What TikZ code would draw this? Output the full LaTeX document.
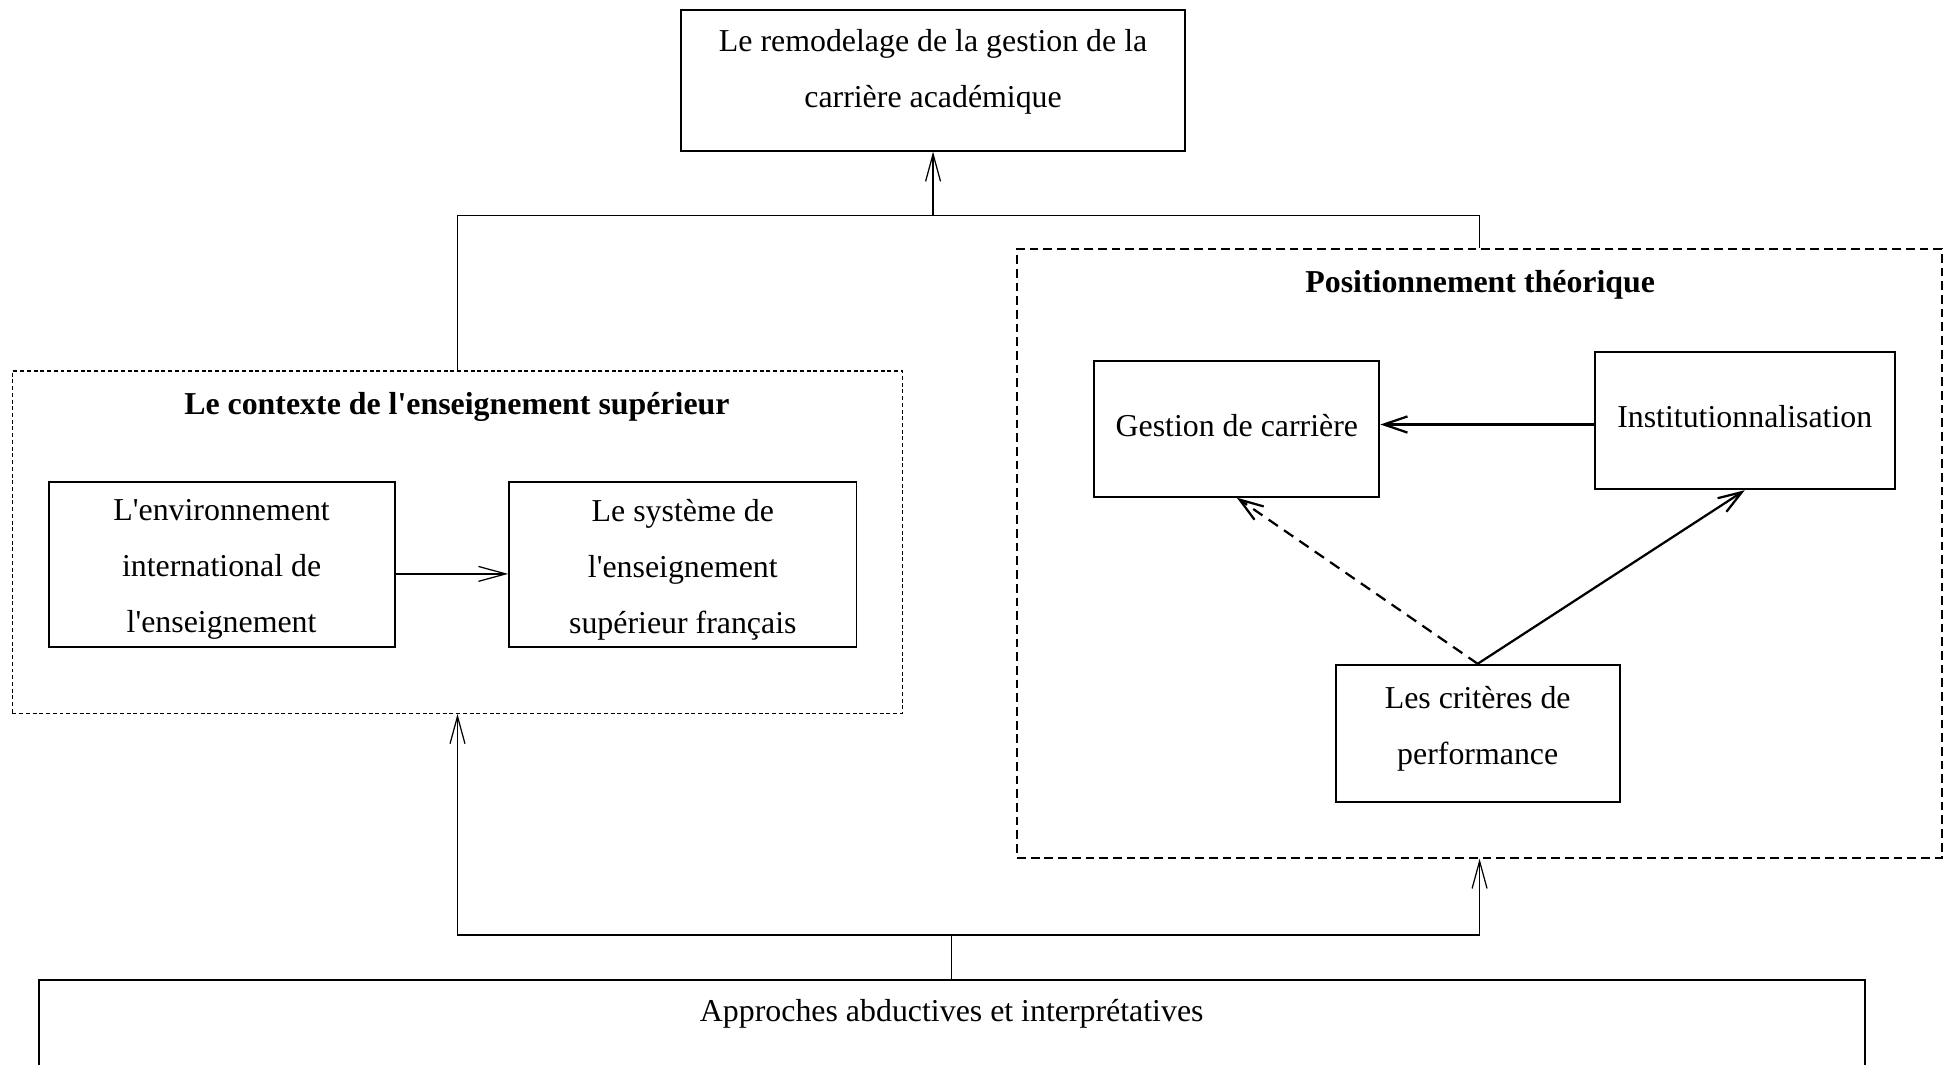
\documentclass[tikz,border=0pt]{standalone}
\usepackage{fontspec}
\setmainfont{Liberation Serif}
\usetikzlibrary{arrows.meta}

\begin{document}
\begin{tikzpicture}[x=0.5pt,y=-0.5pt,
  font=\fontsize{12.8}{22.5}\selectfont,
  box/.style={draw,line width=0.8pt,inner sep=0pt},
  txt/.style={align=center,inner sep=0pt},
  ctxframe/.style={draw,line width=0.5pt,dash pattern=on 1.6pt off 1.1pt,inner sep=0pt},
  theoframe/.style={draw,line width=0.8pt,dash pattern=on 3.5pt off 2pt,inner sep=0pt},
  boxtitle/.style={font=\fontsize{12.8}{15}\selectfont\bfseries,inner sep=0pt},
  conn/.style={line width=0.5pt},
  arr/.style={line width=0.5pt,-{Straight Barb[length=11pt,width=6pt]}},
  bigarr/.style={line width=0.9pt,-{Straight Barb[length=9.5pt,width=6.5pt]}}]
 \useasboundingbox (0,0) rectangle (1568,855);

 % top
 \node[box,minimum width=202.5pt,minimum height=56.5pt] (remod) at (749.5,64.5) {};
 \node[txt] (remodtxt) at (749.5,57.5) {Le remodelage de la gestion de la\\carrière académique};

 % contexte
 \node[ctxframe,minimum width=357.5pt,minimum height=137.5pt] (ctx) at (367.5,435.5) {};
 \node[boxtitle] (ctxtitle) at (367,327) {Le contexte de l\textquotesingle enseignement supérieur};
 \node[box,minimum width=139pt,minimum height=66.5pt] (env) at (178,453.5) {};
 \node[txt] (envtxt) at (178,457.5) {L\textquotesingle environnement\\international de\\l\textquotesingle enseignement};
 \node[box,minimum width=139.5pt,minimum height=66.5pt] (sys) at (548.5,453.5) {};
 \node[txt] (systxt) at (548.5,457.5) {Le système de\\l\textquotesingle enseignement\\supérieur français};
 \draw[arr] ([yshift=-3.75pt]env.east) -- ([yshift=-3.75pt]sys.west);

 % positionnement theorique
 \node[theoframe,minimum width=371.5pt,minimum height=244.5pt] (theo) at (1188.5,444.5) {};
 \node[boxtitle] (theotitle) at (1189,229) {Positionnement théorique};
 \node[box,minimum width=114.5pt,minimum height=54.5pt] (gestion) at (993.5,344.5) {};
 \node[txt] (gestiontxt) at (993.5,342) {Gestion de carrière};
 \node[box,minimum width=120.5pt,minimum height=55pt] (inst) at (1401.5,338) {};
 \node[txt] (insttxt) at (1401.5,335) {Institutionnalisation};
 \node[box,minimum width=114pt,minimum height=55pt] (crit) at (1187,589) {};
 \node[txt] (crittxt) at (1187,585.5) {Les critères de\\performance};
 \draw[bigarr] ([yshift=-1.5pt]inst.west) -- ([yshift=-1.5pt]inst.west -| gestion.east);
 \draw[bigarr,dash pattern=on 4.5pt off 3pt] (crit.north) -- (gestion.south);
 \draw[bigarr] (crit.north) -- (inst.south);

 % bottom
 \node[box,minimum width=733.5pt,minimum height=70pt] (appr) at (764.5,857) {};
 \node[txt] (apprtxt) at (764.5,814) {Approches abductives et interprétatives};

 % connectors
 \coordinate (merge) at (749.5,173);
 \coordinate (split) at (764.5,751);
 \draw[conn] (ctx.north) |- (merge) -| (theo.north);
 \draw[arr] (merge) -- (remod.south);
 \draw[conn] (appr.north) -- (split);
 \draw[arr] (split) -| (ctx.south);
 \draw[arr] (split) -| (theo.south);
\end{tikzpicture}
\end{document}
